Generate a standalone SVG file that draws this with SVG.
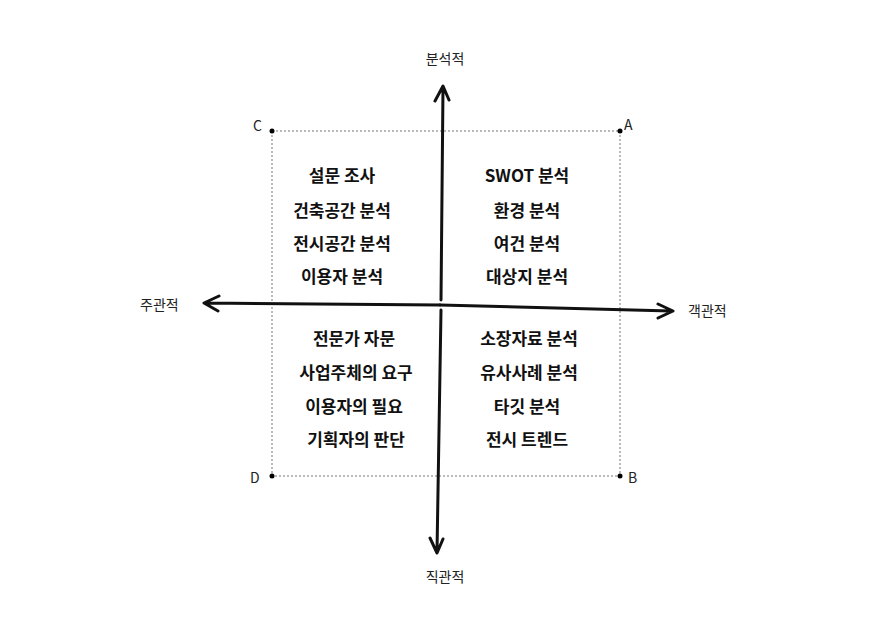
<svg xmlns="http://www.w3.org/2000/svg" width="879" height="618" viewBox="0 0 879 618">
<style>
.l{font-family:"Noto Sans CJK KR","Liberation Sans",sans-serif;font-size:14px;fill:#222}
.q{font-family:"Noto Sans CJK KR",sans-serif;font-size:17px;font-weight:bold;fill:#111;text-anchor:middle}
.ax{stroke:#111;stroke-width:3;fill:none;stroke-linecap:round;stroke-linejoin:round}
</style>
<rect width="879" height="618" fill="#fff"/>
<g id="frame"><rect x="272" y="131" width="348" height="345" fill="none" stroke="#777" stroke-dasharray="2,2"/>
<circle cx="272" cy="131" r="2.5"/><circle cx="620" cy="131" r="2.5"/><circle cx="272" cy="476" r="2.5"/><circle cx="620" cy="476" r="2.5"/></g>
<g id="connectors">
<path class="ax" d="M441 300 L443 88 M435 101 L443 86 L449 100"/>
<path class="ax" d="M441 310 L437 552 M430 538 L437 553 L443 539"/>
<path class="ax" d="M440 305 L671 311 M658 304 L673 311 L658 318"/>
<path class="ax" d="M440 305 L205 303 M219 296 L204 303 L218 311"/>
</g>
<g id="labels">
<text class="l" x="445" y="64" text-anchor="middle">분석적</text>
<text class="l" x="445" y="582" text-anchor="middle">직관적</text>
<text class="l" x="140" y="310">주관적</text>
<text class="l" x="688" y="316">객관적</text>
<text class="l" x="253" y="131">C</text><text class="l" x="624" y="130">A</text>
<text class="l" x="250" y="483">D</text><text class="l" x="628" y="483">B</text>
</g>
<g id="q1"><text class="q" x="342" y="182">설문 조사</text><text class="q" x="342" y="217">건축공간 분석</text><text class="q" x="342" y="250">전시공간 분석</text><text class="q" x="342" y="283">이용자 분석</text></g>
<g id="q2"><text class="q" x="527" y="182">SWOT 분석</text><text class="q" x="527" y="217">환경 분석</text><text class="q" x="527" y="250">여건 분석</text><text class="q" x="527" y="283">대상지 분석</text></g>
<g id="q3"><text class="q" x="354" y="345">전문가 자문</text><text class="q" x="356" y="379">사업주체의 요구</text><text class="q" x="354" y="413">이용자의 필요</text><text class="q" x="356" y="446">기획자의 판단</text></g>
<g id="q4"><text class="q" x="529" y="345">소장자료 분석</text><text class="q" x="529" y="379">유사사례 분석</text><text class="q" x="527" y="413">타깃 분석</text><text class="q" x="527" y="446">전시 트렌드</text></g>
</svg>
